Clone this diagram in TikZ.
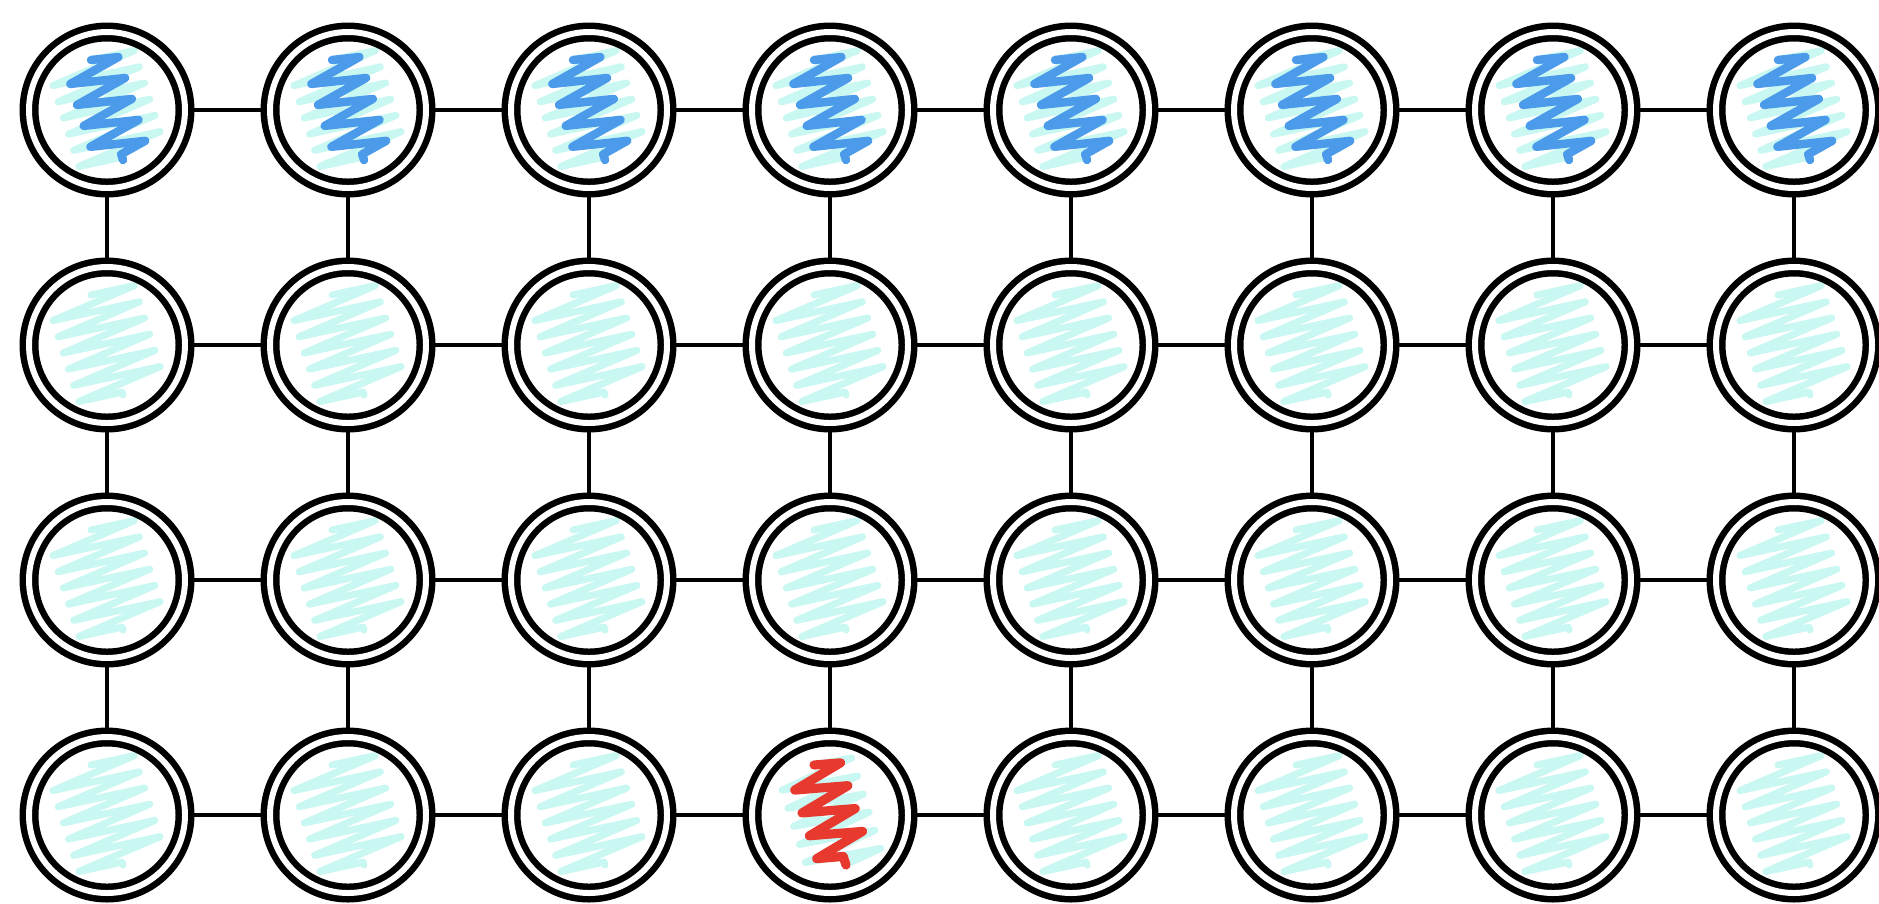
\documentclass[tikz,border=0pt]{standalone}
\usepackage{xcolor}
\usetikzlibrary{automata, positioning, decorations.pathmorphing}

\definecolor{scribcyan}{HTML}{C9F7F2}
\definecolor{scribblue}{HTML}{4C9BEA}
\definecolor{scribred}{HTML}{E8392F}

% zigzag scribble inside a cell
\newcommand{\scribble}[4]{%
  \draw[#1, line width=#2, line join=round, line cap=round, decorate,
    decoration={zigzag, segment length=#4mm, amplitude=#3cm}]
    ([shift={(-0.16,0.5)}]path picture bounding box.center) --
    ([shift={(0.16,-0.5)}]path picture bounding box.center);}

\begin{document}
\begin{tikzpicture}[node distance=2.35cm and 2.41cm, on grid,
        every state/.style={draw=black, fill=white, line width=1.85pt, double distance=1.7pt,
          minimum size=1.56cm, inner sep=0pt, outer sep=0pt},
        mint/.style={path picture={\scribble{scribcyan}{2pt}{0.44}{1.7}}},
        sky/.style={path picture={\scribble{scribcyan}{2pt}{0.44}{1.7}\scribble{scribblue}{2.4pt}{0.27}{2.2}}},
        alarm/.style={path picture={\scribble{scribcyan}{2pt}{0.38}{1.9}\scribble{scribred}{2.6pt}{0.26}{2.4}}},
        hlink/.style={line width=0.9pt},
        vlink/.style={line width=1.4pt}]
        \useasboundingbox (0,0) rectangle (18.79,-9.03);

        \node[state, accepting, sky] (a1) at (1.07,-1.10) {};
        \node[state, accepting, sky] (a2) [right=of a1] {};
        \node[state, accepting, sky] (a3) [right=of a2] {};
        \node[state, accepting, sky] (a4) [right=of a3] {};
        \node[state, accepting, sky] (a5) [right=of a4] {};
        \node[state, accepting, sky] (a6) [right=of a5] {};
        \node[state, accepting, sky] (a7) [right=of a6] {};
        \node[state, accepting, sky] (a8) [right=of a7] {};

        \node[state, accepting, mint] (b1) [below=of a1] {};
        \node[state, accepting, mint] (b2) [right=of b1] {};
        \node[state, accepting, mint] (b3) [right=of b2] {};
        \node[state, accepting, mint] (b4) [right=of b3] {};
        \node[state, accepting, mint] (b5) [right=of b4] {};
        \node[state, accepting, mint] (b6) [right=of b5] {};
        \node[state, accepting, mint] (b7) [right=of b6] {};
        \node[state, accepting, mint] (b8) [right=of b7] {};

        \node[state, accepting, mint] (c1) [below=of b1] {};
        \node[state, accepting, mint] (c2) [right=of c1] {};
        \node[state, accepting, mint] (c3) [right=of c2] {};
        \node[state, accepting, mint] (c4) [right=of c3] {};
        \node[state, accepting, mint] (c5) [right=of c4] {};
        \node[state, accepting, mint] (c6) [right=of c5] {};
        \node[state, accepting, mint] (c7) [right=of c6] {};
        \node[state, accepting, mint] (c8) [right=of c7] {};

        \node[state, accepting, mint] (d1) [below=of c1] {};
        \node[state, accepting, mint] (d2) [right=of d1] {};
        \node[state, accepting, mint] (d3) [right=of d2] {};
        \node[state, accepting, alarm] (d4) [right=of d3] {};
        \node[state, accepting, mint] (d5) [right=of d4] {};
        \node[state, accepting, mint] (d6) [right=of d5] {};
        \node[state, accepting, mint] (d7) [right=of d6] {};
        \node[state, accepting, mint] (d8) [right=of d7] {};

        \path[hlink]
        (a1) edge (a2) edge [vlink] (b1)
        (a2) edge (a3) edge [vlink] (b2)
        (a3) edge (a4) edge [vlink] (b3)
        (a4) edge (a5) edge [vlink] (b4)
        (a5) edge (a6) edge [vlink] (b5)
        (a6) edge (a7) edge [vlink] (b6)
        (a7) edge (a8) edge [vlink] (b7)
        (a8) edge [vlink] (b8)
        (b1) edge (b2) edge [vlink] (c1)
        (b2) edge (b3) edge [vlink] (c2)
        (b3) edge (b4) edge [vlink] (c3)
        (b4) edge (b5) edge [vlink] (c4)
        (b5) edge (b6) edge [vlink] (c5)
        (b6) edge (b7) edge [vlink] (c6)
        (b7) edge (b8) edge [vlink] (c7)
        (b8) edge [vlink] (c8)
        (c1) edge (c2) edge [vlink] (d1)
        (c2) edge (c3) edge [vlink] (d2)
        (c3) edge (c4) edge [vlink] (d3)
        (c4) edge (c5) edge [vlink] (d4)
        (c5) edge (c6) edge [vlink] (d5)
        (c6) edge (c7) edge [vlink] (d6)
        (c7) edge (c8) edge [vlink] (d7)
        (c8) edge [vlink] (d8)
        (d1) edge (d2)
        (d2) edge (d3)
        (d3) edge (d4)
        (d4) edge (d5)
        (d5) edge (d6)
        (d6) edge (d7)
        (d7) edge (d8);

    \end{tikzpicture}
\end{document}
